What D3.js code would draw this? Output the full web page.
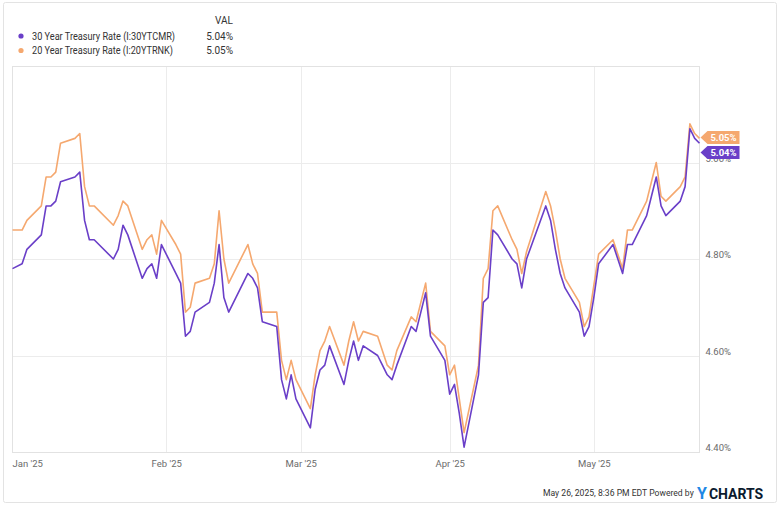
<!DOCTYPE html>
<html>
<head>
<meta charset="utf-8">
<script src="https://cdn.jsdelivr.net/npm/d3@7"></script>
<style>
  html, body { margin: 0; padding: 0; background: #fff; }
  svg { display: block; font-family: Roboto, "Noto Sans", Arial, sans-serif; }
</style>
</head>
<body>
<svg id="chart" width="780" height="507"></svg>
<script>
const dates = [
  "2024-12-31","2025-01-02","2025-01-03","2025-01-06","2025-01-07","2025-01-08","2025-01-09","2025-01-10",
  "2025-01-13","2025-01-14","2025-01-15","2025-01-16","2025-01-17","2025-01-21","2025-01-22","2025-01-23","2025-01-24",
  "2025-01-27","2025-01-28","2025-01-29","2025-01-30","2025-01-31","2025-02-03","2025-02-04","2025-02-05","2025-02-06","2025-02-07",
  "2025-02-10","2025-02-11","2025-02-12","2025-02-13","2025-02-14","2025-02-18","2025-02-19","2025-02-20","2025-02-21",
  "2025-02-24","2025-02-25","2025-02-26","2025-02-27","2025-02-28","2025-03-03","2025-03-04","2025-03-05","2025-03-06","2025-03-07",
  "2025-03-10","2025-03-11","2025-03-12","2025-03-13","2025-03-14","2025-03-17","2025-03-18","2025-03-19","2025-03-20","2025-03-21",
  "2025-03-24","2025-03-25","2025-03-26","2025-03-27","2025-03-28","2025-03-31","2025-04-01","2025-04-02","2025-04-03","2025-04-04",
  "2025-04-07","2025-04-08","2025-04-09","2025-04-10","2025-04-11","2025-04-14","2025-04-15","2025-04-16","2025-04-17",
  "2025-04-21","2025-04-22","2025-04-23","2025-04-24","2025-04-25","2025-04-28","2025-04-29","2025-04-30","2025-05-01","2025-05-02",
  "2025-05-05","2025-05-06","2025-05-07","2025-05-08","2025-05-09","2025-05-12","2025-05-13","2025-05-14","2025-05-15","2025-05-16",
  "2025-05-19","2025-05-20","2025-05-21","2025-05-22","2025-05-23"
];
const rate30 = [
  4.78,4.79,4.82,4.85,4.91,4.91,4.92,4.96,
  4.97,4.98,4.88,4.84,4.84,4.80,4.82,4.87,4.85,
  4.76,4.78,4.79,4.76,4.83,4.77,4.75,4.64,4.65,4.69,
  4.71,4.75,4.83,4.72,4.69,4.77,4.76,4.74,4.67,
  4.66,4.55,4.51,4.56,4.51,4.45,4.53,4.57,4.58,4.62,
  4.54,4.59,4.63,4.59,4.62,4.60,4.58,4.56,4.55,4.58,
  4.66,4.65,4.69,4.73,4.64,4.59,4.52,4.54,4.48,4.41,
  4.56,4.71,4.72,4.86,4.85,4.80,4.79,4.74,4.80,
  4.91,4.88,4.82,4.77,4.74,4.69,4.64,4.66,4.72,4.79,
  4.83,4.80,4.77,4.83,4.83,4.89,4.93,4.97,4.91,4.89,
  4.92,4.95,5.07,5.05,5.04
];
const rate20 = [
  4.86,4.86,4.88,4.91,4.97,4.97,4.98,5.04,
  5.05,5.06,4.95,4.91,4.91,4.87,4.89,4.92,4.91,
  4.82,4.84,4.85,4.81,4.88,4.83,4.81,4.69,4.70,4.75,
  4.76,4.79,4.90,4.80,4.75,4.83,4.79,4.77,4.69,
  4.69,4.59,4.55,4.59,4.55,4.49,4.56,4.61,4.63,4.66,
  4.58,4.63,4.67,4.63,4.65,4.64,4.61,4.58,4.57,4.61,
  4.68,4.67,4.71,4.75,4.65,4.62,4.56,4.58,4.51,4.44,
  4.58,4.76,4.78,4.90,4.91,4.84,4.82,4.77,4.815,
  4.94,4.91,4.86,4.80,4.76,4.71,4.66,4.68,4.745,4.81,
  4.84,4.81,4.78,4.86,4.86,4.92,4.96,5.00,4.93,4.92,
  4.95,4.97,5.08,5.06,5.05
];
const seriesNames = ["30 Year Treasury Rate (I:30YTCMR)", "20 Year Treasury Rate (I:20YTRNK)"];
const seriesColors = ["#6a3fc8", "#f5a86f"];
const yTicks = [4.40, 4.60, 4.80, 5.00];
const monthTicks = ["2025-01-01","2025-02-01","2025-03-01","2025-04-01","2025-05-01"];
const monthLabels = ["Jan '25","Feb '25","Mar '25","Apr '25","May '25"];
const footerText = "May 26, 2025, 8:36 PM EDT Powered by";

const parse = d3.timeParse("%Y-%m-%d");
const pDates = dates.map(parse);
const svg = d3.select("#chart");

const L = 12.5, R = 699.5, T = 66, B = 452;
const x = d3.scaleTime().domain([pDates[0], pDates[pDates.length - 1]]).range([L, R]);
const y = d3.scaleLinear().domain([4.40, 5.20]).range([B, T]);

// outer frame
svg.append("rect").attr("x", 3.5).attr("y", 2.5).attr("width", 773).attr("height", 500)
  .attr("rx", 2).attr("fill", "#fff").attr("stroke", "#e3e3e3");

// gridlines
const grid = svg.append("g");
grid.selectAll("line.h").data(yTicks.concat([5.20])).join("line")
  .attr("x1", L).attr("x2", R).attr("y1", d => Math.round(y(d)) + 0.5).attr("y2", d => Math.round(y(d)) + 0.5)
  .attr("stroke", "#ececec").attr("stroke-width", 1);
grid.selectAll("line.v").data(monthTicks.slice(1).map(parse)).join("line")
  .attr("x1", d => Math.round(x(d)) + 0.5).attr("x2", d => Math.round(x(d)) + 0.5)
  .attr("y1", T).attr("y2", B).attr("stroke", "#ececec");
// plot frame
svg.append("rect").attr("x", L).attr("y", T + 0.5).attr("width", R - L).attr("height", B - T)
  .attr("fill", "none").attr("stroke", "#e2e2e2");

// y axis (drawn before the tags, which partly cover the 5.00% label as in the reference)
const yAxis = d3.axisRight(y).tickValues(yTicks).tickSize(0).tickFormat(d => d.toFixed(2) + "%");
const gy = svg.append("g").attr("transform", `translate(${R + 6},0)`).call(yAxis);
gy.select(".domain").remove();
gy.selectAll("text").attr("x", 0).attr("dy", "-0.15em").attr("fill", "#6b6b6b")
  .style("font-size", "9.5px").style("font-family", "Roboto, sans-serif");

// lines
const line = d3.line().x((d, i) => x(pDates[i])).y(d => y(d));
[rate20, rate30].forEach((s, k) => {
  svg.append("path").datum(s).attr("d", line).attr("fill", "none")
    .attr("stroke", k === 0 ? seriesColors[1] : seriesColors[0])
    .attr("stroke-width", 1.6).attr("stroke-linejoin", "round");
});

// x axis
const xAxis = d3.axisBottom(x).tickValues(monthTicks.map(parse)).tickSize(0)
  .tickFormat((d, i) => monthLabels[i]);
const gx = svg.append("g").attr("transform", `translate(0,${B + 7})`).call(xAxis);
gx.select(".domain").remove();
gx.selectAll("text").attr("fill", "#6b6b6b").style("font-size", "9.5px")
  .style("font-family", "Roboto, sans-serif").attr("dy", "0.55em");
gx.selectAll(".tick").filter((d, i) => i === 0).attr("transform", `translate(${L},0)`)
  .select("text").attr("text-anchor", "start");

// end tags
const lastO = rate20[rate20.length - 1], lastP = rate30[rate30.length - 1];
const oy = y(lastO) - 1;
const py = Math.max(y(lastP), oy + 15);
function tag(cy, color, val) {
  const g = svg.append("g");
  g.append("path").attr("d", `M${R + 1},${cy} L${R + 8},${cy - 6.5} L${R + 40},${cy - 6.5} L${R + 40},${cy + 6.5} L${R + 8},${cy + 6.5} Z`)
    .attr("fill", color);
  g.append("text").attr("x", R + 24).attr("y", cy).attr("dy", "0.35em").attr("text-anchor", "middle")
    .attr("fill", "#fff").style("font-size", "9.5px").style("font-weight", "bold").text(val.toFixed(2) + "%");
}
tag(oy, seriesColors[1], lastO);
tag(py, seriesColors[0], lastP);

// legend
const lg = svg.append("g").style("font-size", "10px").attr("fill", "#333");
lg.append("text").attr("x", 233).attr("y", 24).attr("text-anchor", "end").attr("fill", "#333").text("VAL");
const lastVals = [lastP, lastO];
seriesNames.forEach((n, i) => {
  const cy = 36 + i * 14.5;
  lg.append("circle").attr("cx", 21).attr("cy", cy).attr("r", 2.6).attr("fill", seriesColors[i]);
  lg.append("text").attr("x", 32).attr("y", cy).attr("dy", "0.35em").attr("fill", "#333")
    .attr("textLength", i === 0 ? 143 : 141).attr("lengthAdjust", "spacingAndGlyphs").text(n);
  lg.append("text").attr("x", 233).attr("y", cy).attr("dy", "0.35em").attr("text-anchor", "end")
    .attr("fill", "#333").text(lastVals[i].toFixed(2) + "%");
});

// footer
svg.append("text").attr("x", 543).attr("y", 493).attr("dy", "0.35em").attr("fill", "#333")
  .style("font-size", "8.6px").text(footerText);
const logo = svg.append("text").attr("x", 697).attr("y", 493).attr("dy", "0.36em")
  .style("font-weight", "bold");
logo.append("tspan").attr("fill", "#1e88e5").style("font-size", "16px").text("Y");
logo.append("tspan").attr("fill", "#0b1a2e").attr("dx", 2).style("font-size", "14px").text("CHARTS");
</script>
</body>
</html>
